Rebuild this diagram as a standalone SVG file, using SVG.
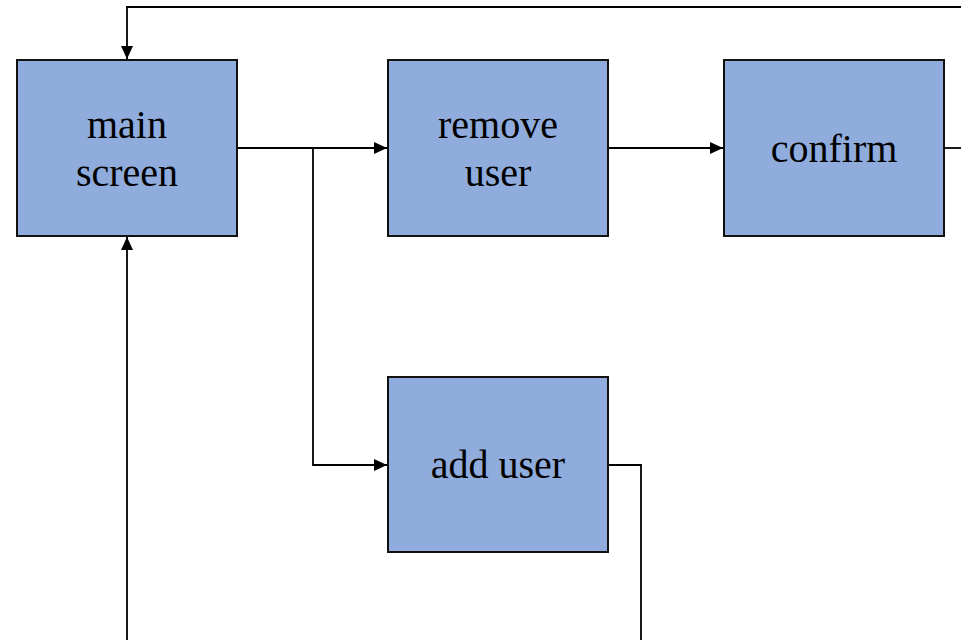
<svg xmlns="http://www.w3.org/2000/svg" width="961" height="640" viewBox="0 0 961 640">
  <style>
    .box { fill: #8FACDC; stroke: #111; stroke-width: 2; }
    .lbl { font-family: "Liberation Serif", "DejaVu Serif", serif; font-size: 40px; fill: #000; text-anchor: middle; }
    .wire { fill: none; stroke: #000; stroke-width: 1.8; }
  </style>
  <defs>
    <marker id="arrow" viewBox="0 0 13 12" refX="13" refY="6" markerWidth="13" markerHeight="12" markerUnits="userSpaceOnUse" orient="auto">
      <path d="M0,0 L13,6 L0,12 Z" fill="#000"/>
    </marker>
  </defs>

  <rect width="961" height="640" fill="#fff"/>

  <g id="connectors">
    <!-- loop back from the right into the top of main screen -->
    <path class="wire" d="M961,7 H127 V59" marker-end="url(#arrow)"/>
    <!-- main screen to remove user -->
    <path class="wire" d="M238,148 H387" marker-end="url(#arrow)"/>
    <!-- branch down to add user -->
    <path class="wire" d="M313,148 V465 H387" marker-end="url(#arrow)"/>
    <!-- remove user to confirm -->
    <path class="wire" d="M609,148 H723" marker-end="url(#arrow)"/>
    <!-- confirm leaves to the right -->
    <path class="wire" d="M945,148 H961"/>
    <!-- add user leaves downward -->
    <path class="wire" d="M609,465 H641 V640"/>
    <!-- return into the bottom of main screen -->
    <path class="wire" d="M127,640 V237" marker-end="url(#arrow)"/>
  </g>

  <g id="main-screen">
    <rect class="box" x="17" y="60" width="220" height="176"/>
    <text class="lbl" x="127" y="138">main</text>
    <text class="lbl" x="127" y="186">screen</text>
  </g>

  <g id="remove-user">
    <rect class="box" x="388" y="60" width="220" height="176"/>
    <text class="lbl" x="498" y="138">remove</text>
    <text class="lbl" x="498" y="186">user</text>
  </g>

  <g id="confirm">
    <rect class="box" x="724" y="60" width="220" height="176"/>
    <text class="lbl" x="834" y="162">confirm</text>
  </g>

  <g id="add-user">
    <rect class="box" x="388" y="377" width="220" height="175"/>
    <text class="lbl" x="498" y="478">add user</text>
  </g>
</svg>
